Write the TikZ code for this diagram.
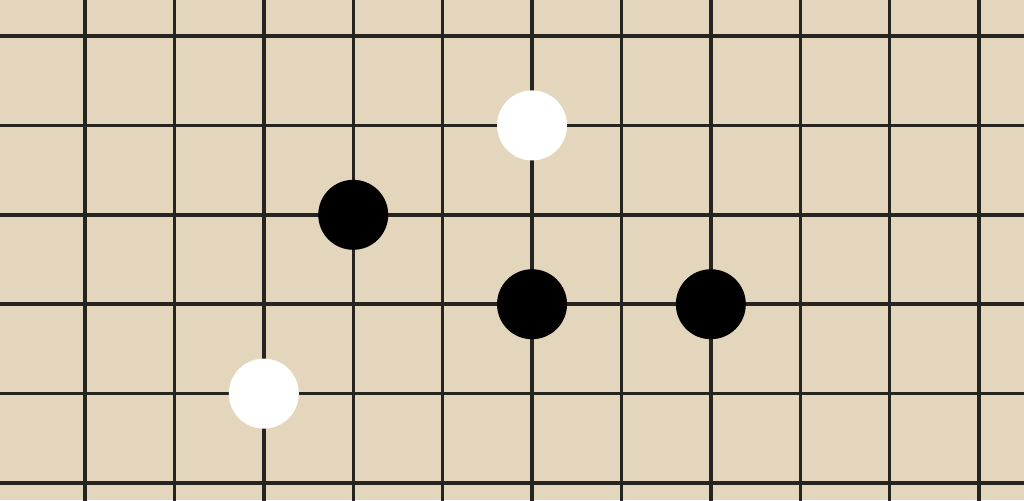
\documentclass[tikz,border=0pt]{standalone}
\usepackage{xcolor}
\usepackage{tikz}
\definecolor{boardTan} {RGB}{227,214,188}
\definecolor{lineDark} {RGB}{38, 36, 32}

\begin{document}
\begin{tikzpicture}[
          grade/.style={lineDark,line width=1.1pt},
          pedraB/.style={circle,fill=black,minimum size=7.83mm,inner sep=0pt},
          pedraW/.style={circle,fill=white,minimum size=7.83mm,inner sep=0pt},
        ]
        \useasboundingbox (-0.951,-0.190) rectangle (10.503,5.403);
        \fill[boardTan] (-0.951,-0.190) rectangle (10.503,5.403);
        \clip (-0.951,-0.190) rectangle (10.503,5.403);
        \foreach \x in {0,...,10}{
          \draw[grade] (\x,-1) -- (\x,6);
        }
        \foreach \y in {0,...,5}{
          \draw[grade] (-2,\y) -- (12,\y);
        }
        \node[pedraW] (w1) at (5,4){};
        \node[pedraB] (b1) at (3,3){};
        \node[pedraB] (b2) at (5,2){};
        \node[pedraB] (b3) at (7,2){};
        \node[pedraW] (w2) at (2,1){};
      \end{tikzpicture}
\end{document}
